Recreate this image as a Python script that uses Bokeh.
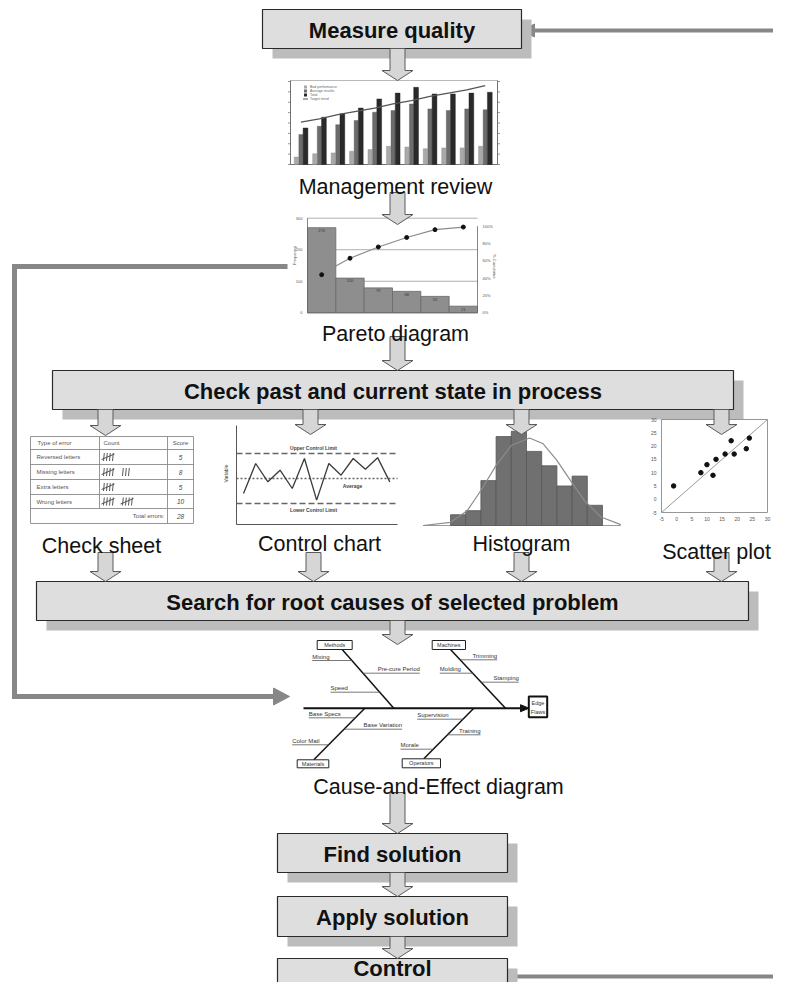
import math
from bokeh.plotting import figure
from bokeh.models import Range1d
from bokeh.core.properties import value
from bokeh.embed import file_html
from bokeh.resources import INLINE

# ======================= DATA =======================
step_titles = ["Measure quality",
               "Check past and current state in process",
               "Search for root causes of selected problem",
               "Find solution", "Apply solution", "Control"]
tool_names = ["Management review", "Pareto diagram", "Check sheet",
              "Control chart", "Histogram", "Scatter plot",
              "Cause-and-Effect diagram"]

# Management review: grouped bars + trend line
mgmt_period = [0, 1, 2, 3, 4, 5, 6, 7, 8, 9, 10]
mgmt_light = [9, 13, 14, 16, 18, 22, 21, 19, 20, 20, 22]
mgmt_mid = [36, 46, 48, 53, 63, 65, 73, 67, 65, 67, 66]
mgmt_dark = [44, 57, 61, 68, 79, 86, 93, 85, 85, 86, 87]
mgmt_trend = [51, 55, 60, 64, 68, 73, 77, 82, 86, 90, 95]
mgmt_legend = ["Bad performance", "Average results", "Total", "Target trend"]
mgmt_ticks = [0, 12.5, 25, 37.5, 50, 62.5, 75, 87.5, 100]

# Pareto diagram
pareto_cat = [0, 1, 2, 3, 4, 5]
pareto_counts = [270, 110, 79, 68, 52, 21]
pareto_cum_pct = [44, 63, 76, 87, 96, 99]
pareto_line_x = [0.5, 1, 2, 3, 4, 5]
pareto_line_pct = [54, 63, 76, 87, 96, 99]
pareto_left_ticks = [0, 100, 200, 300]
pareto_right_ticks = [0, 20, 40, 60, 80, 100]

# Check sheet
error_types = ["Reversed letters", "Missing letters", "Extra letters", "Wrong letters"]
error_counts = [5, 8, 5, 10]
total_errors = 28

# Control chart
control_x = [0, 1, 2, 3, 4, 5, 6, 7, 8, 9, 10, 11, 12]
control_values = [-1.8, 1.8, -0.4, 1.0, -1.2, 2.4, -2.6, 1.8, 0.4, 2.4, 1.1, 2.5, -0.4]
control_ucl, control_avg, control_lcl = 3, 0, -3

# Histogram
hist_bins = [0, 1, 2, 3, 4, 5, 6, 7, 8, 9]
hist_counts = [2.4, 3.3, 10, 19.8, 21, 16.5, 13.3, 8.8, 11, 4.5]
curve_x = [-2.3, -0.5, 0.6, 1.5, 2.5, 3.5, 4.7, 5.6, 6.5, 7.4, 8.3, 9.4, 10.7]
curve_y = [0, 0.7, 3.3, 7.8, 13.4, 17.8, 19.5, 18.2, 14.5, 10.0, 5.6, 1.9, 0.2]

# Scatter plot
scatter_x = [-1, 8, 10, 12, 13, 16, 18, 19, 23, 24]
scatter_y = [5, 10, 13, 9, 15, 17, 22, 17, 19, 23]
scatter_ticks = [-5, 0, 5, 10, 15, 20, 25, 30]

# Cause-and-effect
fish_effect = ["Edge", "Flaws"]
fish_categories = ["Methods", "Machines", "Materials", "Operators"]
fish_causes = [["Mixing", "Pre-cure Period", "Speed"],
               ["Trimming", "Molding", "Stamping"],
               ["Base Specs", "Base Variation", "Color Matl"],
               ["Supervision", "Training", "Morale"]]

# ======================= LAYOUT =======================
FX0, FX1, FY_TOP, FY_BOT = 0, 773, 0, 982
FONT = value("Liberation Sans")

BOXES = [(262, 521, 9, 48), (52, 733, 370, 409), (36, 748, 581, 620),
         (277, 507, 833, 872), (277, 507, 896, 936), (277, 507, 958, 995)]
BOX_TEXT_Y = [29.5, 390.5, 601.5, 853.5, 917, 967.5]
SHADOW = 10
ARROWS = [(397, 48, 80), (397, 192, 224), (397, 336, 370),
          (105, 409, 435), (310, 409, 434), (521, 409, 434), (721, 409, 434),
          (105, 552, 581), (313, 552, 581), (521, 552, 581), (721, 552, 581),
          (397, 620, 644), (397, 792, 833), (397, 872, 896), (397, 936, 958)]
LABEL_POS = [(395, 186), (395, 333), (101, 545), (319, 543), (521, 543),
             (716, 551), (438, 786)]


def sub_x(lo, hi, plo, phi):
    s = (hi - lo) / (phi - plo)
    return Range1d(start=lo - (plo - FX0) * s, end=hi + (FX1 - phi) * s)


def sub_y(lo, hi, py_lo, py_hi):
    s = (hi - lo) / (py_lo - py_hi)
    return Range1d(start=lo - (FY_BOT - py_lo) * s, end=hi + (py_hi - FY_TOP) * s)


p = figure(width=FX1 - FX0, height=FY_BOT - FY_TOP,
           x_range=Range1d(FX0, FX1), y_range=Range1d(FY_BOT, FY_TOP),
           output_backend="svg", toolbar_location=None, min_border=0,
           x_axis_location=None, y_axis_location=None)
p.outline_line_color = None
p.background_fill_color = "white"
p.border_fill_color = "white"
p.xgrid.visible = False
p.ygrid.visible = False

p.extra_x_ranges = {
    "mg": sub_x(0, 10, 300.4, 484.7),
    "pa": sub_x(-0.5, 5.5, 307, 477),
    "cc": sub_x(0, 12, 243, 389.3),
    "hs": sub_x(-0.5, 9.5, 450, 602),
    "sc": sub_x(-5, 30, 661, 767),
}
p.extra_y_ranges = {
    "mg": sub_y(0, 100, 164, 81),
    "pa": sub_y(0, 300, 312.3, 217.7),
    "pp": sub_y(0, 100, 312.3, 225.7),
    "cc": sub_y(-3, 3, 503, 453),
    "hs": sub_y(0, 21, 525, 430.7),
    "sc": sub_y(-5, 30, 512, 419),
}


def txt(x, y, t, size, color="#111", style="normal", align="center",
        baseline="middle", angle=0.0, xr="default", yr="default"):
    p.text(x=x if isinstance(x, list) else [x], y=y if isinstance(y, list) else [y],
           text=t if isinstance(t, list) else [t],
           text_font=FONT, text_font_size=size, text_font_style=style,
           text_color=color, text_align=align, text_baseline=baseline,
           angle=angle, x_range_name=xr, y_range_name=yr)


# ---------------- feedback lines ----------------
FB = "#878787"
p.line([FX1, 531], [30, 30], line_color=FB, line_width=4)
p.patch([521, 534, 534], [30, 23.5, 36.5], fill_color=FB, line_color=FB)
p.line([287, 14, 14, 274], [266, 266, 696, 696], line_color=FB, line_width=5,
       line_join="miter")
p.patch([289, 273, 273], [696, 687.5, 704.5], fill_color=FB, line_color=FB)
p.line([507, FX1], [976, 976], line_color=FB, line_width=4)

# ---------------- process boxes ----------------
p.quad(left=[b[0] + SHADOW for b in BOXES], right=[b[1] + SHADOW for b in BOXES],
       top=[b[2] + SHADOW for b in BOXES], bottom=[b[3] + SHADOW for b in BOXES],
       fill_color="#bcbcbc", line_color=None)
p.quad(left=[b[0] for b in BOXES], right=[b[1] for b in BOXES],
       top=[b[2] for b in BOXES], bottom=[b[3] for b in BOXES],
       fill_color="#dedede", line_color="#2a2a2a", line_width=1.2)
txt([(b[0] + b[1]) / 2 for b in BOXES], BOX_TEXT_Y,
    step_titles, "22px", color="#111", style="bold")

# ---------------- management review ----------------
p.quad(left=[290], right=[497], top=[80], bottom=[164], fill_color="white",
       line_color="#a8a8a8", line_width=0.8)
p.line([290, 290, 497, 497], [80, 164, 164, 80], line_color="#6a6a6a", line_width=0.9)
bw = 0.22
p.vbar(x=[i - 0.25 for i in mgmt_period], top=mgmt_light, bottom=0, width=bw,
       fill_color="#a9a9a9", line_color="#888", line_width=0.4,
       x_range_name="mg", y_range_name="mg")
p.vbar(x=mgmt_period, top=mgmt_mid, bottom=0, width=bw,
       fill_color="#6c6c6c", line_color="#555", line_width=0.4,
       x_range_name="mg", y_range_name="mg")
p.vbar(x=[i + 0.25 for i in mgmt_period], top=mgmt_dark, bottom=0, width=bw + 0.04,
       fill_color="#2a2a2a", line_color="#1a1a1a", line_width=0.4,
       x_range_name="mg", y_range_name="mg")
p.line(mgmt_period, mgmt_trend, line_color="#555", line_width=1.2,
       x_range_name="mg", y_range_name="mg")
p.segment(x0=[290] * len(mgmt_ticks), x1=[287.5] * len(mgmt_ticks), y0=mgmt_ticks,
          y1=mgmt_ticks, line_color="#666", line_width=0.7, y_range_name="mg")
p.segment(x0=[497] * len(mgmt_ticks), x1=[499.5] * len(mgmt_ticks), y0=mgmt_ticks,
          y1=mgmt_ticks, line_color="#666", line_width=0.7, y_range_name="mg")
leg_y = [86.5, 90.5, 94.5, 98.5]
leg_c = ["#a9a9a9", "#6c6c6c", "#2a2a2a"]
p.quad(left=[303.5] * 3, right=[306.5] * 3, top=[y - 1.5 for y in leg_y[:3]],
       bottom=[y + 1.5 for y in leg_y[:3]], fill_color=leg_c, line_color=None)
p.segment(x0=[302.5], x1=[307.5], y0=[leg_y[3]], y1=[leg_y[3]], line_color="#555",
          line_width=1)
txt([309.5] * 4, leg_y, mgmt_legend, "3.5px", color="#666", align="left")

# ---------------- pareto ----------------
p.segment(x0=[307] * 3, x1=[477] * 3, y0=pareto_left_ticks[1:], y1=pareto_left_ticks[1:],
          line_color="#9a9a9a", line_width=0.8, y_range_name="pa")
p.vbar(x=pareto_cat, top=pareto_counts, bottom=0, width=1.0, fill_color="#8e8e8e",
       line_color="#6a6a6a", line_width=0.8, x_range_name="pa", y_range_name="pa")
p.line(pareto_line_x, pareto_line_pct, line_color="#8a8a8a", line_width=1.2,
       x_range_name="pa", y_range_name="pp")
p.scatter(pareto_cat, pareto_cum_pct, size=4, color="#111",
          x_range_name="pa", y_range_name="pp")
txt(pareto_cat, [c - 9 for c in pareto_counts], [str(c) for c in pareto_counts], "4px",
    color="#333", xr="pa", yr="pa")
p.line([307, 307, 477, 477], [217.7, 312.3, 312.3, 225.7], line_color="#666",
       line_width=0.8)
txt([302] * 4, pareto_left_ticks, [str(t) for t in pareto_left_ticks], "4px",
    color="#555", align="right", yr="pa")
txt([482] * 6, pareto_right_ticks, [f"{t}%" for t in pareto_right_ticks], "4px",
    color="#555", align="left", yr="pp")
txt(294, 255, "Frequency", "4px", color="#555", angle=math.pi / 2)
txt(494, 266, "% Cumulative", "4px", color="#555", angle=-math.pi / 2)

# ---------------- check sheet ----------------
ROW_Y = [436, 449, 464, 479, 494, 508, 523]
TX0, TC1, TC2, TX1 = 30, 99, 167, 193
p.quad(left=[TX0], right=[TX1], top=[ROW_Y[0]], bottom=[ROW_Y[-1]], fill_color="white",
       line_color="#8a8a8a", line_width=0.9)
p.segment(x0=[TX0] * 5, x1=[TX1] * 5, y0=ROW_Y[1:6], y1=ROW_Y[1:6],
          line_color="#8a8a8a", line_width=0.9)
p.segment(x0=[TC1, TC2], x1=[TC1, TC2], y0=[ROW_Y[0], ROW_Y[0]], y1=[ROW_Y[5], ROW_Y[6]],
          line_color="#8a8a8a", line_width=0.9)
row_c = [(ROW_Y[i] + ROW_Y[i + 1]) / 2 for i in range(6)]
txt([37, 103], [row_c[0]] * 2, ["Type of error", "Count"], "6px", color="#555",
    align="left")
txt(180, row_c[0], "Score", "6px", color="#555")
txt([36] * 4, row_c[1:5], error_types, "6px", color="#555", align="left")
txt([180] * 4, row_c[1:5], [str(n) for n in error_counts], "6.5px", color="#444",
    style="italic")
txt(164, row_c[5], "Total errors:", "6px", color="#555", align="right")
txt(180, row_c[5], str(total_errors), "6.5px", color="#444", style="italic")
tx, ty = [], []
for r, n in enumerate(error_counts):
    yc = row_c[r + 1]
    for g in range(0, n, 5):
        k = min(5, n - g)
        gx = 103 + (g // 5) * 19
        for s in range(min(k, 4)):
            tx.append([gx + s * 3 + 0.8, gx + s * 3])
            ty.append([yc - 4, yc + 4])
        if k == 5:
            tx.append([gx - 2, gx + 11])
            ty.append([yc + 2.5, yc - 3])
p.multi_line(tx, ty, line_color="#444", line_width=0.9)

# ---------------- control chart ----------------
p.line([236, 236, 397], [425, 524, 524], line_color="#555", line_width=1)
for lvl, dash in ((control_ucl, "6 3"), (control_lcl, "6 3"), (control_avg, "2 2")):
    p.line([236, 397], [lvl, lvl], line_color="#666", line_width=1.3, line_dash=dash,
           y_range_name="cc")
p.line(control_x, control_values, line_color="#3a3a3a", line_width=1.3,
       x_range_name="cc", y_range_name="cc")
txt(313, 447, "Upper Control Limit", "5px", color="#444", style="bold")
txt(352, 485, "Average", "5px", color="#444", style="bold")
txt(313, 509, "Lower Control Limit", "5px", color="#444", style="bold")
txt(225, 473, "Variable", "5px", color="#444", angle=math.pi / 2)

# ---------------- histogram ----------------
p.line([curve_x[0], curve_x[-1]], [0, 0], line_color="#999", line_width=1,
       x_range_name="hs", y_range_name="hs")
p.vbar(x=hist_bins, top=hist_counts, bottom=0, width=1.0, fill_color="#707070",
       line_color="#555", line_width=0.8, x_range_name="hs", y_range_name="hs")
p.line(curve_x, curve_y, line_color="#8c8c8c", line_width=1.2,
       x_range_name="hs", y_range_name="hs")

# ---------------- scatter ----------------
p.quad(left=[661], right=[767], top=[419], bottom=[512], fill_color="white",
       line_color="#8a8a8a", line_width=0.9)
p.line([-5, 30], [-5, 30], line_color="#999", line_width=1, x_range_name="sc",
       y_range_name="sc")
p.scatter(scatter_x, scatter_y, size=4.5, color="#111", x_range_name="sc",
          y_range_name="sc")
txt([656] * len(scatter_ticks), scatter_ticks, [str(t) for t in scatter_ticks], "5px",
    color="#555", align="right", yr="sc")
txt(scatter_ticks, [518.5] * len(scatter_ticks), [str(t) for t in scatter_ticks], "5px",
    color="#555", xr="sc")

# ---------------- cause-and-effect ----------------
SPINE = (303, 522, 707.7)
BONES = [((341.7, 649), (393.3, 707.7)), ((450, 649), (505, 707.7)),
         ((313.3, 759.3), (364.3, 707.7)), ((423.3, 758.3), (473.3, 707.7))]
CAT_BOX = [(316.7, 351.7, 640, 649), (431.7, 465, 640, 649),
           (296.7, 328.3, 759.3, 767.3), (401.7, 440, 758.3, 767.3)]
CAUSE_POS = [[(660, "L", 311.7), (672.7, "R", 419.3), (691.7, "L", 330)],
             [(659.3, "R", 496.7), (672.7, "L", 439.3), (681.7, "R", 518.3)],
             [(717.3, "L", 308.3), (728.7, "R", 401.7), (744.3, "L", 291.7)],
             [(718.7, "L", 416.7), (734.3, "R", 480), (748.7, "L", 400)]]
EFFECT_BOX = (528.3, 546.7, 696, 716.7)

p.line([SPINE[0], SPINE[1]], [SPINE[2], SPINE[2]], line_color="#111", line_width=2)
p.patch([528.5, 520, 520], [SPINE[2], SPINE[2] - 3.5, SPINE[2] + 3.5],
        fill_color="#111", line_color="#111")
p.segment(x0=[b[0][0] for b in BONES], y0=[b[0][1] for b in BONES],
          x1=[b[1][0] for b in BONES], y1=[b[1][1] for b in BONES],
          line_color="#111", line_width=1.5)
ux0, ux1, uy, lx, ly, lt_l, lx_r, ly_r, lt_r = [], [], [], [], [], [], [], [], []
for ci, causes in enumerate(fish_causes):
    (bx0, by0), (bx1, by1) = BONES[ci]
    for name, (yy, side, outer) in zip(causes, CAUSE_POS[ci]):
        bxx = bx0 + (yy - by0) / (by1 - by0) * (bx1 - bx0)
        if side == "L":
            ux0.append(outer); ux1.append(bxx)
            lx.append(outer); ly.append(yy - 0.8); lt_l.append(name)
        else:
            ux0.append(bxx); ux1.append(outer)
            lx_r.append(outer); ly_r.append(yy - 0.8); lt_r.append(name)
        uy.append(yy)
p.segment(x0=ux0, x1=ux1, y0=uy, y1=uy, line_color="#555", line_width=0.8)
txt(lx, ly, lt_l, "6px", color="#333", align="left", baseline="bottom")
txt(lx_r, ly_r, lt_r, "6px", color="#333", align="right", baseline="bottom")
p.quad(left=[b[0] for b in CAT_BOX], right=[b[1] for b in CAT_BOX],
       top=[b[2] for b in CAT_BOX], bottom=[b[3] for b in CAT_BOX],
       fill_color="white", line_color="#222", line_width=1)
txt([(b[0] + b[1]) / 2 for b in CAT_BOX], [(b[2] + b[3]) / 2 for b in CAT_BOX],
    fish_categories, "5.5px", color="#333")
p.quad(left=[EFFECT_BOX[0]], right=[EFFECT_BOX[1]], top=[EFFECT_BOX[2]],
       bottom=[EFFECT_BOX[3]], fill_color="white", line_color="#111", line_width=2)
txt([537.5, 537.5], [702, 711], fish_effect, "5.5px", color="#333")

# ---------------- hollow arrows ----------------
SW, HW, HL = 7.5, 15.5, 10
axs, ays = [], []
for cx, y0, y1 in ARROWS:
    axs.append([cx - SW, cx + SW, cx + SW, cx + HW, cx, cx - HW, cx - SW])
    ays.append([y0, y0, y1 - HL, y1 - HL, y1, y1 - HL, y1 - HL])
p.patches(axs, ays, fill_color="#d6d6d6", line_color="#5a5a5a", line_width=1)

# ---------------- tool labels ----------------
txt([q[0] for q in LABEL_POS], [q[1] for q in LABEL_POS], tool_names, "21.5px",
    color="#111", baseline="alphabetic")

open("out.html", "w").write(file_html(p, INLINE))
